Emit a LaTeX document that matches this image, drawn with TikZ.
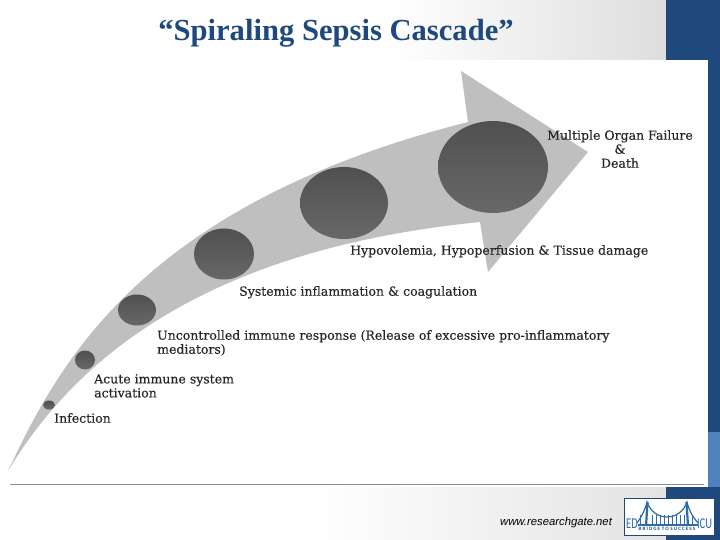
\documentclass[tikz,border=0pt]{standalone}
\usepackage{xcolor}
\usepackage{fontspec}
\setmainfont{Liberation Serif}
\newfontfamily\stagefont[FakeBold=0.25]{DejaVu Serif}
\newfontfamily\sourcefont{Liberation Sans}
\newfontfamily\logofont{Carlito}
\definecolor{slideblue}{HTML}{1F497D}
\definecolor{stripblue}{HTML}{4F81BD}
\definecolor{bridgeblue}{HTML}{2E6CA8}
\definecolor{arrowgrey}{HTML}{BFBFBF}
\definecolor{blobtop}{HTML}{505050}
\definecolor{blobbottom}{HTML}{686868}
\tikzset{
  stagelabel/.style={font=\stagefont\fontsize{12.5}{14}\selectfont, text=black!85, inner sep=0pt, anchor=north west, align=left},
  stageblob/.style={top color=blobtop, bottom color=blobbottom, draw=none},
  logotext/.style={font=\logofont\fontsize{15}{15}\selectfont, text=bridgeblue, inner sep=0pt},
  bridgeline/.style={draw=bridgeblue},
}
\begin{document}
\begin{tikzpicture}[x=1pt, y=-1pt]
    \useasboundingbox (0,0) rectangle (720,540);
    % slide background
    \fill[white] (0,0) rectangle (720,540);
    \shade[left color=white, right color=black!13] (390,0) rectangle (666,60);
    \shade[left color=white, right color=black!11] (310,487) rectangle (666,540);
    \fill[slideblue] (666,0) rectangle (720,60);
    \fill[slideblue] (708,60) rectangle (720,432);
    \fill[stripblue] (708,432) rectangle (720,487);
    \fill[slideblue] (666,487) rectangle (720,540);
    \draw[black!45, line width=1pt] (10,484.5)-- (704,484.5);
    % sweeping arrow
    \fill[arrowgrey] (8,471)
        .. controls (58,365) and (140,205) .. (468,122)
        -- (461,71) -- (588,152) -- (488,272) -- (480,222)
        .. controls (300,240) and (110,300) .. (8,471) -- cycle;
    \foreach \cx/\cy/\rx/\ry in {49/405/6/4.5, 85/360/10/9.5, 137/310/19/15.5,
        224/254/30/25.5, 344/203/44/36, 493/167/55/46}
        \shade[stageblob] (\cx,\cy) ellipse[x radius=\rx, y radius=\ry];
    % labels
    \node[font=\bfseries\fontsize{30.6}{32}\selectfont, text=slideblue] (title) at (336,33) {``Spiraling Sepsis Cascade''};
    \node[stagelabel] (infectionlabel) at (54,413) {Infection};
    \node[stagelabel] (acutelabel) at (94,374) {Acute immune system\\activation};
    \node[stagelabel] (uncontrolledlabel) at (157,330) {Uncontrolled immune response (Release of excessive pro-inflammatory\\mediators)};
    \node[stagelabel] (systemiclabel) at (239,286) {Systemic inflammation \& coagulation};
    \node[stagelabel] (hypolabel) at (350,245) {Hypovolemia, Hypoperfusion \& Tissue damage};
    \node[stagelabel, align=center, anchor=north] (failurelabel) at (620,130) {Multiple Organ Failure\\\&\\Death};
    \node[font=\sourcefont\itshape\fontsize{11.3}{12}\selectfont] (source) at (556,523) {www.researchgate.net};
    % logo
    \node[draw=slideblue, fill=white, minimum width=90pt, minimum height=37pt, inner sep=0pt, anchor=north west] (logo) at (624,498) {};
    \node[logotext] (edlabel) at (632,524) {\scalebox{0.7}[1]{ED}};
    \node[logotext] (iculabel) at (704.5,524) {\scalebox{0.7}[1]{ICU}};
    \node[font=\logofont\bfseries\fontsize{5}{5}\selectfont, text=slideblue, inner sep=0pt] (bridgelabel) at (667,529) {B R I D G E\,\,T O\,\,S U C C E S S};
    \draw[bridgeline, line width=2.2pt] (646,526)-- (647.5,502);
    \draw[bridgeline, line width=2.2pt] (688,526)-- (686.5,502);
    \draw[bridgeline, line width=1.2pt] (637,523) .. controls (642,516) and (645,510) .. (647,502)
        .. controls (654,522) and (680,522) .. (687,502) .. controls (689,510) and (692,516) .. (698,523);
    \draw[bridgeline, line width=1.6pt] (638,525)-- (698,525);
    \foreach \x in {640,652,656,...,684,692}
        \draw[bridgeline, line width=0.4pt] (\x,515)-- ++(0,10);
\end{tikzpicture}
\end{document}
